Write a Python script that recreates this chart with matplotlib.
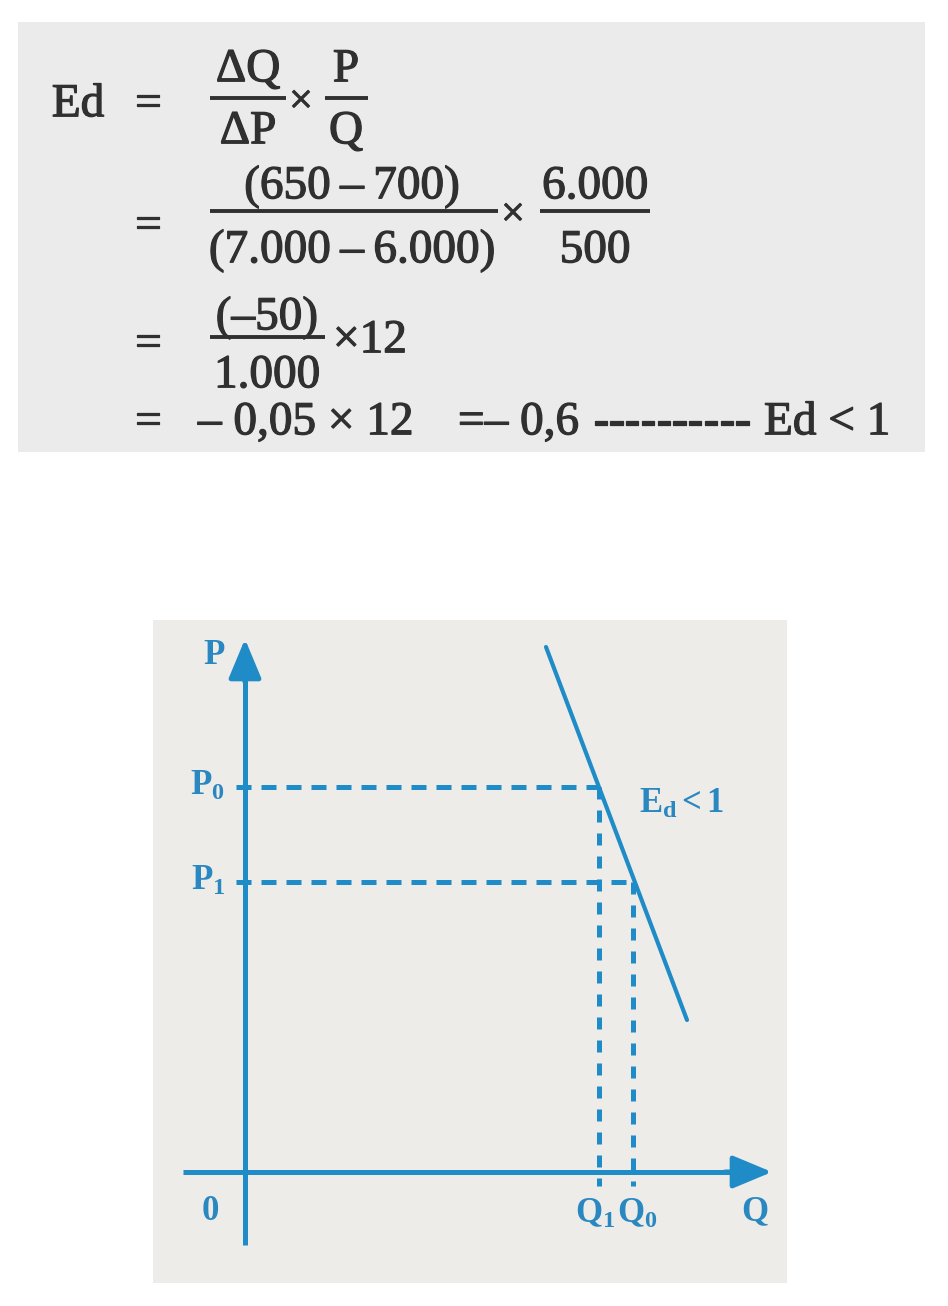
import matplotlib
matplotlib.use("Agg")
import matplotlib.pyplot as plt
import matplotlib.patheffects as pe
from matplotlib.patches import Rectangle

plt.rcParams['font.family'] = ['Liberation Serif', 'DejaVu Serif']
plt.rcParams['mathtext.fontset'] = 'custom'
plt.rcParams['mathtext.rm'] = 'Liberation Serif'
plt.rcParams['mathtext.it'] = 'Liberation Serif:italic'
plt.rcParams['mathtext.bf'] = 'Liberation Serif:bold'

# ---- data for the diagram (schematic units) ----
price_labels = [r'$\mathbf{P}_\mathbf{0}$', r'$\mathbf{P}_\mathbf{1}$']
price_levels = [385, 290]
qty_labels = [r'$\mathbf{Q}_\mathbf{1}$', r'$\mathbf{Q}_\mathbf{0}$']
qty_levels = [354, 388]
demand_q = [301, 442]
demand_p = [525, 152]
curve_label = r'$\mathbf{E}_\mathbf{d}\mathbf{<1}$'

BLUE = '#1f8bc7'
LBLUE = '#2a88c0'
TXT = '#303030'

W, H = 948, 1306
fig = plt.figure(figsize=(W / 100, H / 100), dpi=100, facecolor='white')

# ---------- overlay for the formula (pixel coordinates) ----------
ov = fig.add_axes([0, 0, 1, 1])
ov.set_xlim(0, W)
ov.set_ylim(H, 0)
ov.axis('off')
ov.add_patch(Rectangle((18, 22), 907, 430, facecolor='#ebebeb', edgecolor='none'))

fs = 34
thick = [pe.withStroke(linewidth=0.9, foreground=TXT)]
TS = '\u2009'

def t(x, y, s, ha='center', size=fs):
    ov.text(x, y, s, ha=ha, va='center_baseline', fontsize=size, color=TXT,
            path_effects=thick)

def bar(x0, x1, y):
    ov.plot([x0, x1], [y, y], color=TXT, lw=2.8, solid_capstyle='butt')

# line 1
t(78, 100, 'Ed')
t(148, 100, '=')
t(248, 65, 'ΔQ')
bar(210, 286, 98)
t(248, 127, 'ΔP')
t(301, 98, '×', size=30)
t(346, 65, 'P')
bar(325, 368, 98)
t(346, 127, 'Q')
# line 2
t(148, 222, '=')
t(352, 182, '(650' + TS + '–' + TS + '700)')
bar(210, 498, 211)
t(352, 246, '(7.000' + TS + '–' + TS + '6.000)')
t(513, 211, '×', size=30)
t(595, 182, '6.000')
bar(540, 650, 211)
t(595, 246, '500')
# line 3
t(148, 340, '=')
t(267, 313, '(–50)')
bar(210, 325, 337)
t(267, 371, '1.000')
t(370, 336, '×12')
# line 4
t(148, 418, '=')
t(198, 418, '– 0,05 × 12', ha='left')
t(458, 418, '=– 0,6', ha='left')
t(593, 418, '----------', ha='left')
t(764, 418, 'Ed < 1', ha='left')

# ---------- diagram ----------
ax = fig.add_axes([153 / W, (H - 1283) / H, 634 / W, 663 / H])
ax.set_facecolor('#eeece9')
ax.set_xlim(-92, 542)
ax.set_ylim(-111, 552)
for s in ax.spines.values():
    s.set_visible(False)
ax.set_xticks([])
ax.set_yticks([])

lw_axis = 3.6
ax.plot([0, 0], [-73, 500], color=BLUE, lw=lw_axis, solid_capstyle='butt')
ax.plot([-62, 500], [0, 0], color=BLUE, lw=lw_axis, solid_capstyle='butt')
ax.annotate('', xy=(0, 533), xytext=(0, 490),
            arrowprops=dict(arrowstyle='-|>,head_length=1.2,head_width=0.5',
                            mutation_scale=20, color=BLUE, lw=lw_axis,
                            shrinkA=0, shrinkB=0))
ax.annotate('', xy=(527, 0), xytext=(480, 0),
            arrowprops=dict(arrowstyle='-|>,head_length=1.2,head_width=0.5',
                            mutation_scale=20, color=BLUE, lw=lw_axis,
                            shrinkA=0, shrinkB=0))

ax.plot(demand_q, demand_p, color=BLUE, lw=3.0, solid_capstyle='round')

dash = (3.0, 2.0)
for p, q in zip(price_levels, qty_levels):
    ax.plot([-9, q], [p, p], color=BLUE, lw=lw_axis, dashes=dash)
for q, p in zip(qty_levels, price_levels):
    ax.plot([q, q], [p, -14], color=BLUE, lw=lw_axis, dashes=(2.4, 2.2))

lab = dict(color=LBLUE, fontsize=25, va='center')
ax.text(-31, 516, 'P', ha='center', fontweight='bold', **lab)
for s, p in zip(price_labels, price_levels):
    ax.text(-20, p + 1, s, ha='right', **lab)
ax.text(-35, -40, '0', ha='center', fontweight='bold', **lab)
ax.text(qty_levels[0] + 16, -42, qty_labels[0], ha='right', **lab)
ax.text(qty_levels[1] - 16, -42, qty_labels[1], ha='left', **lab)
ax.text(510, -40, 'Q', ha='center', fontweight='bold', **lab)
ax.text(394, 368, curve_label, ha='left', **lab)

fig.savefig('out.png', dpi=100, facecolor='white')
